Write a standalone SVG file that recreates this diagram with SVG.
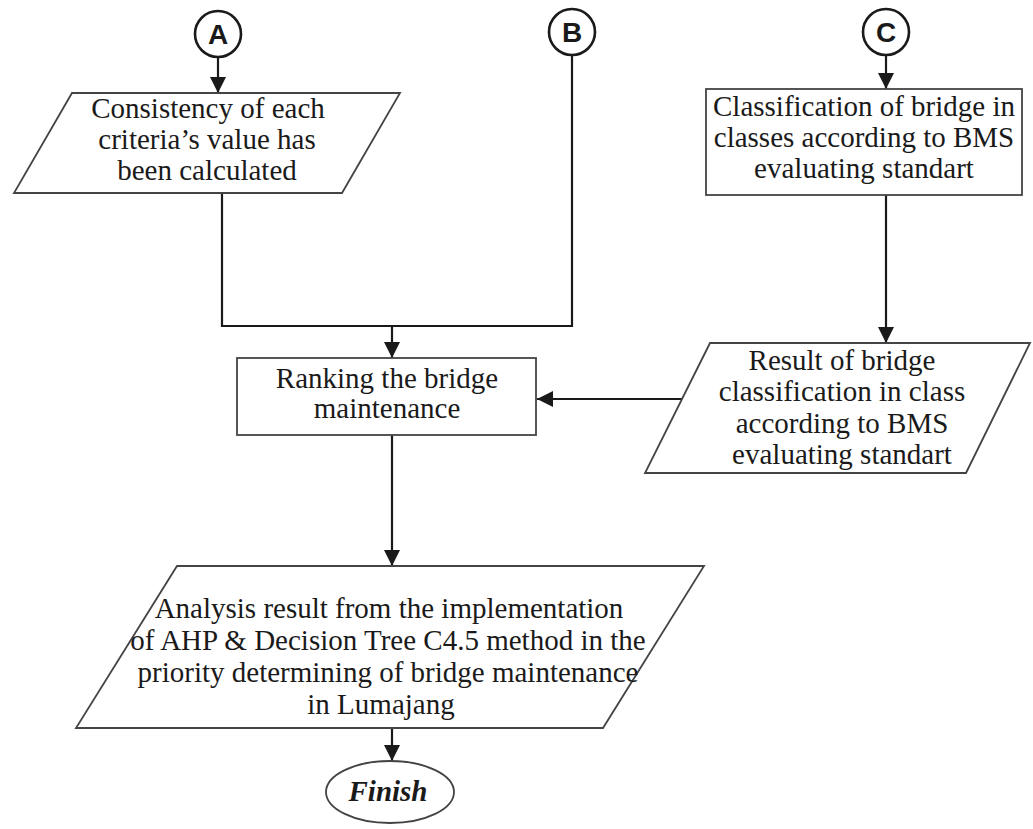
<svg xmlns="http://www.w3.org/2000/svg" width="1033" height="829" viewBox="0 0 1033 829">
<style>
.shape{fill:#fff;stroke:#444;stroke-width:1.8}
.conn{fill:none;stroke:#1a1a1a;stroke-width:2.2}
.t{font-family:"Liberation Serif","Times New Roman",serif;font-size:29px;fill:#1a1a1a;text-anchor:middle}
.circ{fill:#fff;stroke:#1a1a1a;stroke-width:2.6}
.lbl{font-family:"Liberation Sans",Arial,sans-serif;font-size:28px;font-weight:bold;fill:#1a1a1a;text-anchor:middle}
</style>
<defs>
<marker id="ah" markerUnits="userSpaceOnUse" markerWidth="16" markerHeight="18" refX="16" refY="8" orient="auto">
<path d="M0,0 L16,8 L0,16 Z" fill="#1a1a1a"/>
</marker>
</defs>
<rect width="1033" height="829" fill="#fff"/>
<g id="connectors">
<line class="conn" x1="218" y1="58" x2="218" y2="93" marker-end="url(#ah)"/>
<polyline class="conn" points="222,193 222,326 572,326 572,56"/>
<line class="conn" x1="392" y1="326" x2="392" y2="358" marker-end="url(#ah)"/>
<line class="conn" x1="886" y1="55" x2="886" y2="89" marker-end="url(#ah)"/>
<line class="conn" x1="886" y1="195" x2="886" y2="343" marker-end="url(#ah)"/>
<line class="conn" x1="682" y1="399" x2="537" y2="399" marker-end="url(#ah)"/>
<line class="conn" x1="392" y1="435" x2="392" y2="566" marker-end="url(#ah)"/>
<line class="conn" x1="392" y1="728" x2="392" y2="761" marker-end="url(#ah)"/>
</g>
<g id="nodeA">
<circle class="circ" cx="218" cy="34" r="23"/>
<text class="lbl" x="218" y="44">A</text>
</g>
<g id="nodeB">
<circle class="circ" cx="572" cy="32" r="23"/>
<text class="lbl" x="572" y="42">B</text>
</g>
<g id="nodeC">
<circle class="circ" cx="886" cy="32" r="23"/>
<text class="lbl" x="886" y="42">C</text>
</g>
<g id="consistency">
<polygon class="shape" points="72,93 400,93 342,193 14,193"/>
<text class="t" x="208" y="118">Consistency of each</text>
<text class="t" x="207" y="149">criteria’s value has</text>
<text class="t" x="207" y="180">been calculated</text>
</g>
<g id="classification">
<rect class="shape" x="706" y="89" width="316" height="106"/>
<text class="t" x="864" y="116">Classification of bridge in</text>
<text class="t" x="864" y="147">classes according to BMS</text>
<text class="t" x="864" y="178">evaluating standart</text>
</g>
<g id="ranking">
<rect class="shape" x="237" y="358" width="299" height="77"/>
<text class="t" x="387" y="388">Ranking the bridge</text>
<text class="t" x="387" y="418">maintenance</text>
</g>
<g id="result">
<polygon class="shape" points="710,343 1030,343 966,473 645,473"/>
<text class="t" x="842" y="370">Result of bridge</text>
<text class="t" x="842" y="401">classification in class</text>
<text class="t" x="842" y="433">according to BMS</text>
<text class="t" x="842" y="464">evaluating standart</text>
</g>
<g id="analysis">
<polygon class="shape" points="177,566 704,566 603,728 76,728"/>
<text class="t" x="389" y="618">Analysis result from the implementation</text>
<text class="t" x="388" y="650">of AHP &amp; Decision Tree C4.5 method in the</text>
<text class="t" x="388" y="682">priority determining of bridge maintenance</text>
<text class="t" x="381" y="714">in Lumajang</text>
</g>
<g id="finish">
<ellipse class="shape" cx="390" cy="792" rx="64" ry="31"/>
<text class="t" x="388" y="801" font-weight="bold" font-style="italic">Finish</text>
</g>
</svg>
